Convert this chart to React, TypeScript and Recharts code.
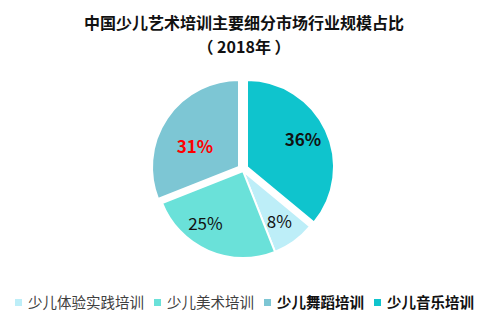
import React from 'react';
import { PieChart, Pie, Cell, Legend } from 'recharts';

const categories = ['少儿体验实践培训', '少儿美术培训', '少儿舞蹈培训', '少儿音乐培训'];
const shares = [8, 25, 31, 36];
const colors = ['#BDEEF8', '#6AE1D9', '#7DC6D4', '#0FC4CD'];

const data = categories.map((name, i) => ({ name, value: shares[i] }));

// which slices are pulled out of the pie, and where each copy of the pie sits
const groups = [
  { slices: ['少儿体验实践培训', '少儿美术培训'], cx: 243, cy: 171 },
  { slices: ['少儿舞蹈培训'], cx: 239, cy: 167 },
  { slices: ['少儿音乐培训'], cx: 247, cy: 167 },
];

const labelLook: Record<string, { color: string; weight: number; dx: number; dy: number }> = {
  少儿体验实践培训: { color: '#111', weight: 400, dx: 0, dy: 0 },
  少儿美术培训: { color: '#111', weight: 400, dx: -13, dy: -5 },
  少儿舞蹈培训: { color: '#FF0000', weight: 700, dx: 7, dy: 13 },
  少儿音乐培训: { color: '#111', weight: 700, dx: 0, dy: -2 },
};

const boldLegend = ['少儿舞蹈培训', '少儿音乐培训'];

const FONT = '"Noto Sans CJK SC", "Noto Sans", sans-serif';
const RADIAN = Math.PI / 180;
const R = 87;

const makeLabel = (visible: string[]) => (props: any) => {
  const { cx, cy, midAngle, outerRadius, index } = props;
  const name = data[index].name;
  if (!visible.includes(name)) return null;
  const look = labelLook[name];
  const r = outerRadius * 0.71;
  const x = cx + r * Math.cos(-midAngle * RADIAN) + look.dx;
  const y = cy + r * Math.sin(-midAngle * RADIAN) + look.dy;
  return (
    <text
      x={x}
      y={y}
      textAnchor="middle"
      dominantBaseline="central"
      fill={look.color}
      fontWeight={look.weight}
      fontSize={17}
      fontFamily={FONT}
    >
      {`${data[index].value}%`}
    </text>
  );
};

const renderLegend = () => (
  <div style={{ display: 'flex', alignItems: 'center', paddingLeft: 15, fontFamily: FONT }}>
    {categories.map((c, i) => (
      <div key={c} style={{ display: 'flex', alignItems: 'center', marginRight: 10 }}>
        <span style={{ width: 7, height: 7, background: colors[i], marginRight: 6, display: 'inline-block' }} />
        <span
          style={{
            fontSize: 14.5,
            color: boldLegend.includes(c) ? '#111' : '#404040',
            fontWeight: boldLegend.includes(c) ? 700 : 400,
            lineHeight: '18px',
          }}
        >
          {c}
        </span>
      </div>
    ))}
  </div>
);

const App: React.FC = () => {
  return (
    <div style={{ position: 'relative', width: 500, height: 324, background: '#fff' }}>
      <style>{'body{margin:0}'}</style>
      <div
        style={{
          position: 'absolute',
          top: 11,
          left: 0,
          width: 488,
          textAlign: 'center',
          fontFamily: FONT,
          fontWeight: 700,
          fontSize: 16,
          lineHeight: '23.6px',
          color: '#111',
          zIndex: 1,
        }}
      >
        中国少儿艺术培训主要细分市场行业规模占比
        <br />
        （ 2018年 ）
      </div>
      <PieChart width={500} height={324} margin={{ top: 0, right: 0, bottom: 0, left: 0 }}>
        {groups.map((g, gi) => (
          <Pie
            key={gi}
            data={data}
            dataKey="value"
            nameKey="name"
            cx={g.cx}
            cy={g.cy}
            outerRadius={R}
            startAngle={-39.6}
            endAngle={-399.6}
            stroke="#fff"
            strokeWidth={2}
            label={makeLabel(g.slices)}
            labelLine={false}
            isAnimationActive={false}
          >
            {data.map((d, i) => (
              <Cell
                key={d.name}
                fill={g.slices.includes(d.name) ? colors[i] : 'none'}
                stroke={g.slices.includes(d.name) ? '#fff' : 'none'}
              />
            ))}
          </Pie>
        ))}
        <Legend
          content={renderLegend}
          wrapperStyle={{ position: 'absolute', top: 293, left: 0, width: 500 }}
        />
      </PieChart>
    </div>
  );
};

export default App;
